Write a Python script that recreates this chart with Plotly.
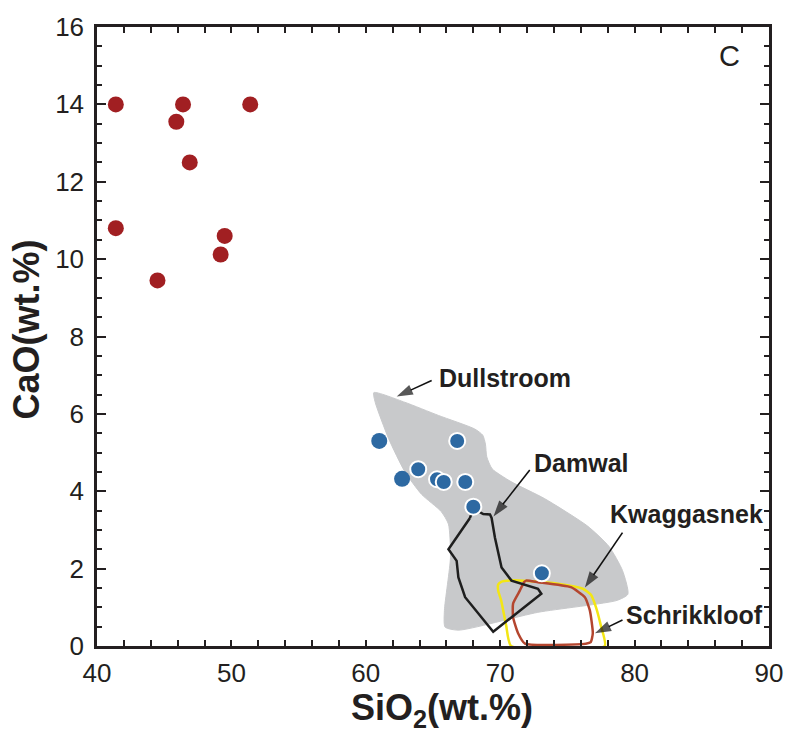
import plotly.graph_objects as go

# Basaltic samples (red)
basalt_sio2 = [41.4, 46.4, 51.4, 45.9, 46.9, 41.4, 49.5, 49.2, 44.5]
basalt_cao = [14.0, 14.0, 14.0, 13.55, 12.5, 10.8, 10.6, 10.12, 9.45]

# Felsic / intermediate samples (blue)
felsic_sio2 = [61.0, 62.7, 66.8, 63.9, 65.3, 65.8, 67.4, 68.0, 73.1]
felsic_cao = [5.3, 4.32, 5.3, 4.57, 4.31, 4.24, 4.24, 3.6, 1.88]
felsic_ring = [0, 0, 2, 2, 2, 2, 2, 2, 2]

# Reference fields (outline vertices, SiO2 / CaO)
dullstroom_sio2 = [60.6, 62.9, 65.4, 68.1, 68.7, 68.9, 69.0, 69.4, 70.8, 73.3, 76.5,
                   78.1, 79.1, 79.5, 78.7, 72.8, 66.9, 65.9, 65.85, 66.3, 66.15,
                   65.6, 64.15, 62.9, 61.7, 60.7, 60.6]
dullstroom_cao = [6.55, 6.30, 5.96, 5.61, 5.45, 5.22, 4.89, 4.58, 4.25, 3.81, 3.10,
                  2.57, 1.95, 1.34, 1.18, 0.87, 0.41, 0.49, 0.92, 2.29, 3.15,
                  3.48, 3.92, 4.51, 5.36, 6.30, 6.55]

damwal_sio2 = [67.75, 66.15, 66.76, 66.89, 67.39, 69.48, 73.06, 72.81, 70.84, 70.10,
               69.61, 69.36, 69.24, 68.74, 68.0, 67.75]
damwal_cao = [3.31, 2.50, 2.20, 1.77, 1.26, 0.37, 1.35, 1.48, 1.69, 2.03,
              2.80, 3.31, 3.40, 3.41, 3.55, 3.31]

kwaggasnek_sio2 = [69.85, 70.07, 70.96, 72.07, 74.30, 76.15, 76.74, 77.11, 77.48,
                   77.78, 70.81, 70.44, 70.07, 69.85, 69.85]
kwaggasnek_cao = [1.59, 1.66, 1.70, 1.68, 1.61, 1.48, 1.33, 1.02, 0.54,
                  0.0, 0.0, 0.54, 1.18, 1.43, 1.59]

schrikkloof_sio2 = [71.93, 72.81, 75.26, 76.30, 76.67, 76.89, 76.74, 76.37, 71.85,
                    71.33, 70.96, 70.96, 71.46, 71.78, 71.93]
schrikkloof_cao = [1.69, 1.65, 1.52, 1.26, 0.92, 0.33, 0.10, 0.06, 0.06,
                   0.33, 0.74, 1.10, 1.43, 1.65, 1.69]

# Field labels: (name, label x, label y, arrow tail x, tail y, head x, head y)
field_labels = [
    ("Dullstroom", 65.4, 6.94, 64.9, 6.86, 62.3, 6.45),
    ("Damwal", 72.45, 4.72, 72.2, 4.55, 69.5, 3.35),
    ("Kwaggasnek", 78.1, 3.41, 79.1, 2.93, 76.3, 1.51),
    ("Schrikkloof", 79.3, 0.79, 79.1, 0.67, 77.05, 0.33),
]

FONT = "Liberation Sans, Arial, sans-serif"
INK = "#231F20"

fig = go.Figure()

fig.add_trace(go.Scatter(
    x=dullstroom_sio2, y=dullstroom_cao, mode="lines", fill="toself",
    fillcolor="#C8C9CB", line=dict(color="#C8C9CB", width=1, shape="spline", smoothing=0.6),
    hoverinfo="skip", showlegend=False))
fig.add_trace(go.Scatter(
    x=kwaggasnek_sio2, y=kwaggasnek_cao, mode="lines",
    line=dict(color="#F3E614", width=2.5, shape="spline", smoothing=0.5),
    hoverinfo="skip", showlegend=False))
fig.add_trace(go.Scatter(
    x=schrikkloof_sio2, y=schrikkloof_cao, mode="lines",
    line=dict(color="#B4462F", width=2.5, shape="spline", smoothing=0.5),
    hoverinfo="skip", showlegend=False))
fig.add_trace(go.Scatter(
    x=damwal_sio2, y=damwal_cao, mode="lines",
    line=dict(color="#1E1E1E", width=2.5),
    hoverinfo="skip", showlegend=False))

# Leader arrows from each field name to its outline
for name, tx, ty, ax_, ay_, hx, hy in field_labels:
    fig.add_trace(go.Scatter(
        x=[ax_, hx], y=[ay_, hy], mode="lines+markers",
        line=dict(color="#111111", width=1.6),
        marker=dict(symbol="arrow", size=[0, 17], angleref="previous", color="#111111",
                    line=dict(width=0)),
        hoverinfo="skip", showlegend=False))

fig.add_trace(go.Scatter(
    x=basalt_sio2, y=basalt_cao, mode="markers",
    marker=dict(color="#A11F22", size=16, line=dict(width=0)),
    showlegend=False))
fig.add_trace(go.Scatter(
    x=felsic_sio2, y=felsic_cao, mode="markers",
    marker=dict(color="#2D69A2", size=16, line=dict(color="white", width=felsic_ring)),
    showlegend=False))

for name, tx, ty, ax_, ay_, hx, hy in field_labels:
    fig.add_annotation(x=tx, y=ty, text=name, showarrow=False, xanchor="left",
                       yanchor="middle", borderpad=0,
                       font=dict(family=FONT, size=25, color=INK, weight="bold"))

fig.add_annotation(x=87.05, y=15.25, text="C", showarrow=False,
                   font=dict(family=FONT, size=29, color=INK))

# Axis titles
fig.add_annotation(xref="paper", yref="paper", x=0.513, y=-0.104,
                   text="SiO<sub>2</sub>(wt.%)", showarrow=False,
                   xanchor="center", yanchor="middle",
                   font=dict(family=FONT, size=36, color=INK, weight="bold"))
fig.add_annotation(xref="paper", yref="paper", x=-0.105, y=0.512,
                   text="CaO(wt.%)", showarrow=False, textangle=-90,
                   xanchor="center", yanchor="middle",
                   font=dict(family=FONT, size=36, color=INK, weight="bold"))

axis_common = dict(
    showline=True, linecolor=INK, linewidth=2.5, mirror="ticks",
    ticks="inside", tickcolor=INK, tickwidth=2.2,
    showgrid=False, zeroline=False,
    tickfont=dict(family=FONT, size=26, color=INK),
)

fig.update_xaxes(
    range=[40, 90], dtick=10, tick0=40, ticklen=6, ticklabelstandoff=2,
    minor=dict(dtick=2, ticks="inside", ticklen=6, tickwidth=2.2, tickcolor=INK, showgrid=False),
    **axis_common)
fig.update_yaxes(
    range=[0, 16], dtick=2, tick0=0, ticklen=9, ticklabelstandoff=5,
    minor=dict(dtick=0.5, ticks="inside", ticklen=5, tickwidth=2.2, tickcolor=INK, showgrid=False),
    **axis_common)

fig.update_layout(
    width=795, height=735,
    margin=dict(l=97, r=23, t=21, b=89),
    plot_bgcolor="white", paper_bgcolor="white",
    font=dict(family=FONT),
)

fig.write_html("out.html")
